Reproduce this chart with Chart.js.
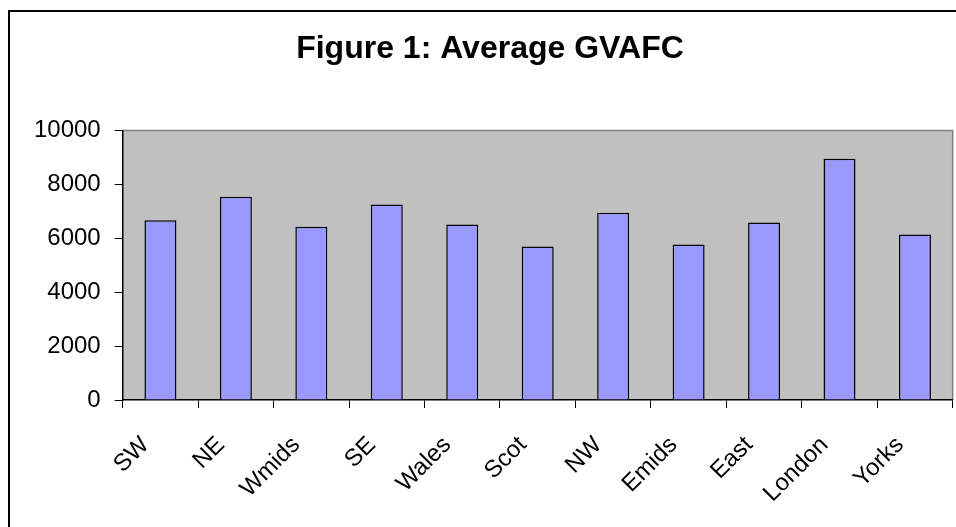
<!DOCTYPE html>
<html>
<head>
<meta charset="utf-8">
<script src="https://cdn.jsdelivr.net/npm/chart.js@4.4.1/dist/chart.umd.min.js"></script>
<style>
  html, body { margin: 0; padding: 0; background: #fff; overflow: hidden; }
  #wrap { width: 956px; height: 527px; overflow: hidden; position: relative; }
  #box { width: 980px; height: 527px; }
</style>
</head>
<body>
<div id="wrap"><div id="box"><canvas id="chart"></canvas></div></div>
<script>
const regions = ["SW", "NE", "Wmids", "SE", "Wales", "Scot", "NW", "Emids", "East", "London", "Yorks"];
const gvafc = [6670, 7540, 6430, 7250, 6510, 5690, 6950, 5770, 6580, 8950, 6140];
const yTicks = [0, 2000, 4000, 6000, 8000, 10000];

const FONT = "'Liberation Sans', Arial, sans-serif";

// outer frame + grey plot area, like the old spreadsheet chart
const backdrop = {
  id: "backdrop",
  beforeDraw(chart) {
    const { ctx, chartArea: a } = chart;
    ctx.save();
    ctx.fillStyle = "#c0c0c0";
    ctx.fillRect(a.left, a.top, a.right - a.left, a.bottom - a.top);
    ctx.strokeStyle = "#808080";
    ctx.lineWidth = 1.5;
    ctx.beginPath();
    ctx.moveTo(a.left, a.top);
    ctx.lineTo(a.right, a.top);
    ctx.lineTo(a.right, a.bottom);
    ctx.stroke();
    ctx.strokeStyle = "#000";
    ctx.lineWidth = 2;
    ctx.beginPath();
    ctx.moveTo(9, 600);
    ctx.lineTo(9, 11);
    ctx.lineTo(1000, 11);
    ctx.stroke();
    ctx.restore();
  },
};

new Chart(document.getElementById("chart"), {
  type: "bar",
  data: {
    labels: regions,
    datasets: [{
      label: "Average GVAFC",
      data: gvafc,
      backgroundColor: "#9999ff",
      borderColor: "#000",
      borderWidth: 1.5,
      barPercentage: 0.424,
      categoryPercentage: 1,
    }],
  },
  options: {
    responsive: true,
    maintainAspectRatio: false,
    animation: false,
    layout: { padding: { left: 27.3, right: 27.3, top: 0, bottom: 0 } },
    plugins: {
      legend: { display: false },
      tooltip: { enabled: false },
      title: {
        display: true,
        text: "Figure 1: Average GVAFC",
        color: "#000",
        font: { family: FONT, size: 32, weight: "bold" },
        padding: { top: 30, bottom: 62 },
      },
    },
    scales: {
      x: {
        offset: true,
        grid: { offset: true, drawOnChartArea: false, drawTicks: true, tickLength: 8, color: "#000" },
        border: { display: true, color: "#000", width: 1.5 },
        ticks: {
          color: "#000",
          font: { family: FONT, size: 24 },
          minRotation: 45,
          maxRotation: 45,
          padding: 23,
          labelOffset: -15,
        },
        afterFit(scale) { scale.height = 127; },
      },
      y: {
        min: 0,
        max: 10000,
        afterBuildTicks(scale) { scale.ticks = yTicks.map((v) => ({ value: v })); },
        grid: { drawOnChartArea: false, drawTicks: true, tickLength: 8, color: "#000" },
        border: { display: true, color: "#000", width: 1.5 },
        ticks: {
          color: "#000",
          font: { family: FONT, size: 24 },
          padding: 14,
          callback: (v) => String(v),
        },
        afterFit(scale) { scale.width = 95.4; },
      },
    },
  },
  plugins: [backdrop],
});
</script>
</body>
</html>
